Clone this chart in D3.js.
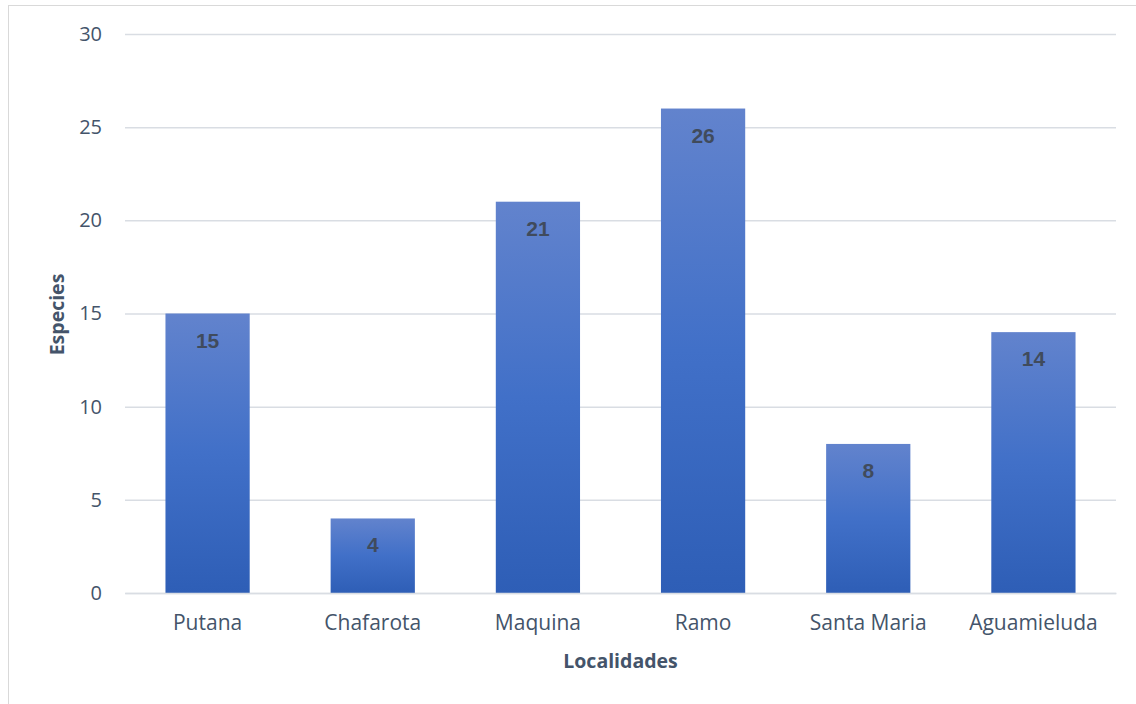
<!DOCTYPE html>
<html>
<head>
<meta charset="utf-8">
<script src="https://cdn.jsdelivr.net/npm/d3@7"></script>
<style>
  html, body { margin: 0; padding: 0; background: #fff; }
  svg { display: block; }
</style>
</head>
<body>
<svg id="chart" width="1136" height="704"></svg>
<script>
// Species count per locality
const categories = ["Putana", "Chafarota", "Maquina", "Ramo", "Santa Maria", "Aguamieluda"];
const values = [15, 4, 21, 26, 8, 14];
const yTicks = [0, 5, 10, 15, 20, 25, 30];
const xTitle = "Localidades";
const yTitle = "Especies";

const svg = d3.select("#chart");
const W = 1136, H = 704;
const plot = { left: 125, right: 1116, top: 34, bottom: 593 };
const textColor = "#44546a";
const font = "'Open Sans', sans-serif";

// Chart area frame
svg.append("rect")
  .attr("x", 8.5).attr("y", 5.5)
  .attr("width", W + 20).attr("height", H + 20)
  .attr("fill", "#fff").attr("stroke", "#d9d9d9").attr("stroke-width", 1);

const x = d3.scaleBand()
  .domain(categories)
  .range([plot.left, plot.right])
  .paddingInner(0.49)
  .paddingOuter(0.245);

const y = d3.scaleLinear()
  .domain([0, 30])
  .range([plot.bottom, plot.top]);

// Bar gradient: lighter at the top, darker at the base
const defs = svg.append("defs");
const grad = defs.append("linearGradient")
  .attr("id", "barGrad")
  .attr("x1", 0).attr("y1", 0).attr("x2", 0).attr("y2", 1);
grad.append("stop").attr("offset", "0%").attr("stop-color", "#6283cd");
grad.append("stop").attr("offset", "50%").attr("stop-color", "#4170c8");
grad.append("stop").attr("offset", "100%").attr("stop-color", "#2e5eb6");

// Horizontal gridlines
const yAxis = d3.axisLeft(y).tickValues(yTicks).tickSize(-(plot.right - plot.left)).tickPadding(23);
const gy = svg.append("g")
  .attr("transform", `translate(${plot.left},0)`)
  .call(yAxis);
gy.select(".domain").remove();
gy.selectAll(".tick line").attr("stroke", "#d9dde3").attr("stroke-width", 1.5);
gy.selectAll(".tick text")
  .attr("fill", textColor)
  .style("font-family", font)
  .style("font-size", "20px");

// Bars
const data = categories.map((c, i) => ({ c, v: values[i] }));
svg.append("g").selectAll("rect")
  .data(data)
  .join("rect")
  .attr("x", d => x(d.c))
  .attr("y", d => y(d.v))
  .attr("width", x.bandwidth())
  .attr("height", d => y(0) - y(d.v))
  .attr("fill", "url(#barGrad)");

// Value labels inside the bar tops
svg.append("g").selectAll("text")
  .data(data)
  .join("text")
  .attr("x", d => x(d.c) + x.bandwidth() / 2)
  .attr("y", d => y(d.v) + 34)
  .attr("text-anchor", "middle")
  .attr("fill", "#404b5c")
  .style("font-family", "'Liberation Sans', Arial, sans-serif")
  .style("font-weight", "bold")
  .style("font-size", "21px")
  .text(d => d.v);

// Category axis
const xAxis = d3.axisBottom(x).tickSize(0).tickPadding(22);
const gx = svg.append("g")
  .attr("transform", `translate(0,${plot.bottom})`)
  .call(xAxis);
gx.select(".domain").attr("stroke", "#d9dde3").attr("stroke-width", 1.5);
gx.selectAll(".tick text")
  .attr("fill", textColor)
  .style("font-family", font)
  .style("font-size", "21px");

// Axis titles
svg.append("text")
  .attr("x", (plot.left + plot.right) / 2)
  .attr("y", 668)
  .attr("text-anchor", "middle")
  .attr("fill", textColor)
  .style("font-family", font)
  .style("font-weight", "bold")
  .style("font-size", "19.5px")
  .text(xTitle);

svg.append("text")
  .attr("transform", `translate(64,${(plot.top + plot.bottom) / 2 + 1}) rotate(-90)`)
  .attr("text-anchor", "middle")
  .attr("fill", textColor)
  .style("font-family", font)
  .style("font-weight", "bold")
  .style("font-size", "19.5px")
  .text(yTitle);
</script>
</body>
</html>
